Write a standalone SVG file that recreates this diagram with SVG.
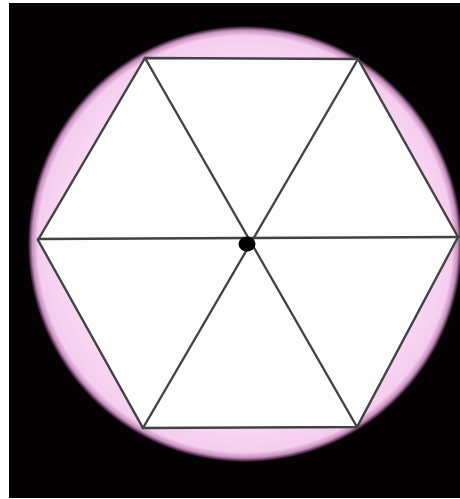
<svg xmlns="http://www.w3.org/2000/svg" width="460" height="499" viewBox="0 0 460 499">
  <defs>
    <radialGradient id="disc" cx="0.5" cy="0.5" r="0.5">
      <stop offset="0" stop-color="#fbe6f8"/>
      <stop offset="0.85" stop-color="#f8d6f2"/>
      <stop offset="0.955" stop-color="#f5cdee"/>
      <stop offset="0.98" stop-color="#c98fc0"/>
      <stop offset="1" stop-color="#120410"/>
    </radialGradient>
    <style>
      .edge { stroke: #424242; stroke-width: 2.4; fill: none; stroke-linecap: round; }
    </style>
  </defs>
  <rect x="0" y="0" width="460" height="499" fill="#ffffff"/>
  <rect x="9" y="3" width="451" height="495" fill="#050203"/>
  <ellipse id="disc-shape" cx="245" cy="244" rx="217" ry="218" fill="url(#disc)"/>
  <g id="hexagon">
    <polygon points="145,58 358,59 458,237 357,427 143,428 38,240" fill="#fdfdfd"/>
  </g>
  <g id="connectors">
    <polygon class="edge" points="145,58 358,59 458,237 357,427 143,428 38,240"/>
    <line class="edge" x1="38" y1="239" x2="460" y2="237"/>
    <line class="edge" x1="145" y1="58" x2="357" y2="427"/>
    <line class="edge" x1="358" y1="59" x2="143" y2="428"/>
  </g>
  <g id="center">
    <ellipse cx="247" cy="244" rx="8.5" ry="7.5" fill="#000"/>
  </g>
</svg>
